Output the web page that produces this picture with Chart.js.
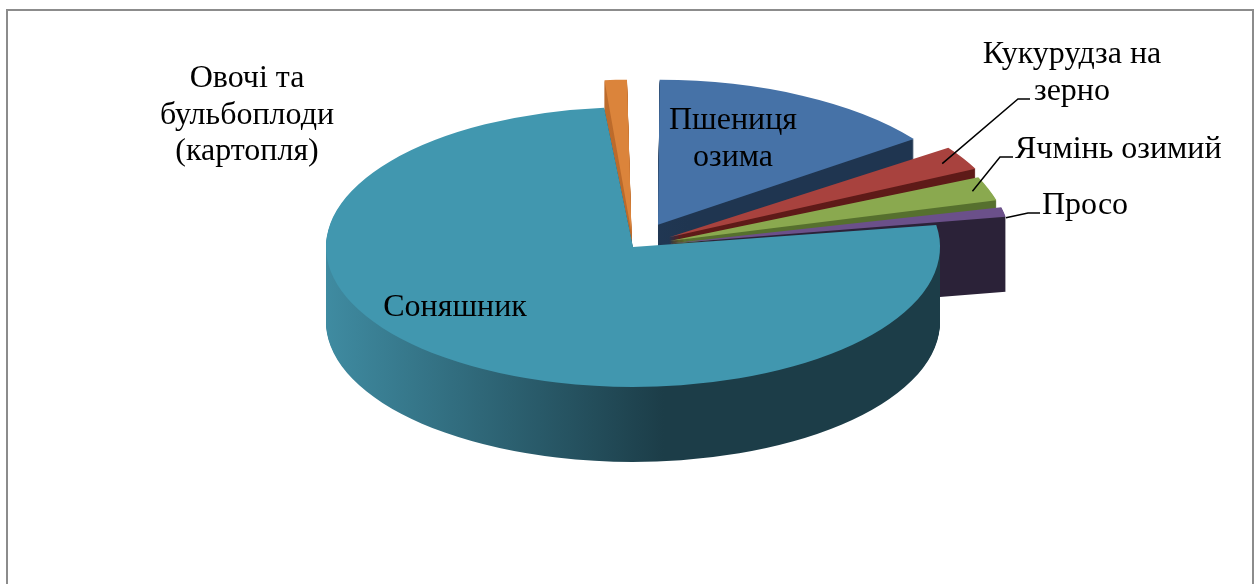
<!DOCTYPE html>
<html>
<head>
<meta charset="utf-8">
<script src="https://cdn.jsdelivr.net/npm/chart.js@4/dist/chart.umd.min.js"></script>
<style>
  html, body { margin: 0; padding: 0; background: #fff; }
  #wrap { position: relative; width: 1258px; height: 584px; overflow: hidden; }
  #frame { position: absolute; left: 6px; top: 9px; width: 1248px; height: 620px; border: 2px solid #8c8c8c; box-sizing: border-box; }
  #myChart { position: absolute; left: 0; top: 0; }
</style>
</head>
<body>
<div id="wrap">
  <div id="frame"></div>
  <canvas id="myChart" width="1258" height="584"></canvas>
</div>
<script>
// crops, clockwise from 12 o'clock
var categories = ["Пшениця озима", "Кукурудза на зерно", "Ячмінь озимий", "Просо", "Соняшник", "Овочі та бульбоплоди (картопля)"]
var shares = [15, 3, 3, 1.5, 76, 1.5]
var labelLines = [["Пшениця", "озима"], ["Кукурудза на", "зерно"], ["Ячмінь озимий"], ["Просо"], ["Соняшник"], ["Овочі та", "бульбоплоди", "(картопля)"]]

// colours: top face, side light, side dark
const TOP = ['#4672A7', '#A8423E', '#8AA94F', '#6B508A', '#4197AF', '#DB843B']
const SIDE_L = ['#2C4868', '#7A2623', '#6A843A', '#382C48', '#3F8BA1', '#D37A33']
const SIDE_D = ['#1F3550', '#5E1A18', '#56702E', '#2B2238', '#1C3D48', '#B8682A']
const EXPLODE = [220, 168, 156, 150, 0, 126]

const TILT = 0.456    // vertical squash of the pie
const DEPTH = 75      // thickness in px
const RADIUS = 307

// label placement (text anchor + leader line points)
const LABELS = [
  { x: 733, y: [129, 166], align: 'center' },
  { x: 1072, y: [63, 100], align: 'center', leader: [[1018, 99], [1030, 99]], frac: 0.93 },
  { x: 1015, y: [158], align: 'left', leader: [[1000, 157], [1013, 157]], frac: 0.95 },
  { x: 1042, y: [214], align: 'left', leader: [[1028, 213], [1040, 213]], frac: 1.0, atEnd: true },
  { x: 455, y: [316], align: 'center' },
  { x: 247, y: [87, 124, 160], align: 'center' }
]

function squash(ctx, cx, cy) {
  ctx.translate(cx, cy)
  ctx.scale(1, TILT)
  ctx.translate(-cx, -cy)
}

// point on the rim of an arc element, in screen coords
function rimPoint(el, ang, frac, cy) {
  const off = (el.options.offset || 0) / 4
  const half = (el.startAngle + el.endAngle) / 2
  const fix = 1 - Math.sin(Math.min(Math.PI, el.circumference))
  const r = el.outerRadius + off * fix
  const x = el.x + Math.cos(half) * off + Math.cos(ang) * r * frac
  const y = el.y + Math.sin(half) * off + Math.sin(ang) * r * frac
  return { x: x, y: cy + (y - cy) * TILT }
}

const pie3d = {
  id: 'pie3d',
  beforeDatasetsDraw(chart) {
    const ctx = chart.ctx
    const meta = chart.getDatasetMeta(0)
    const cx = meta.data[0].x, cy = meta.data[0].y
    // side walls, back to front
    const order = [5, 0, 1, 2, 3, 4]
    order.forEach(function (i) {
      const el = meta.data[i]
      const saved = el.options
      const g = ctx.createLinearGradient(cx - RADIUS, 0, cx + RADIUS, 0)
      g.addColorStop(0, SIDE_L[i])
      g.addColorStop(0.55, SIDE_D[i])
      g.addColorStop(1, SIDE_D[i])
      el.options = Object.assign({}, saved, { backgroundColor: g, borderWidth: 0 })
      for (let t = DEPTH; t > 0; t--) {
        ctx.save()
        ctx.translate(0, t)
        squash(ctx, cx, cy)
        el.draw(ctx)
        ctx.restore()
      }
      el.options = saved
    })
    // top faces are drawn by chart.js in the squashed space
    ctx.save()
    squash(ctx, cx, cy)
  },
  afterDatasetsDraw(chart) {
    const ctx = chart.ctx
    ctx.restore()
    const meta = chart.getDatasetMeta(0)
    const cy = meta.data[0].y
    ctx.save()
    ctx.fillStyle = '#000'
    ctx.strokeStyle = '#000'
    ctx.lineWidth = 1.5
    ctx.font = '32px "Liberation Serif", "Times New Roman", serif'
    LABELS.forEach(function (lb, i) {
      if (lb.leader) {
        const el = meta.data[i]
        const ang = lb.atEnd ? el.endAngle - 0.01 : (el.startAngle + el.endAngle) / 2
        const p = rimPoint(el, ang, lb.frac, cy)
        ctx.beginPath()
        ctx.moveTo(p.x, p.y)
        lb.leader.forEach(function (q) { ctx.lineTo(q[0], q[1]) })
        ctx.stroke()
      }
      ctx.textAlign = lb.align
      labelLines[i].forEach(function (s, j) {
        ctx.fillText(s, lb.x, lb.y[j])
      })
    })
    ctx.restore()
  }
}

const data = {
  labels: categories,
  datasets: [{
    data: shares,
    backgroundColor: TOP,
    borderWidth: 0,
    offset: EXPLODE,
    radius: RADIUS
  }]
}

const config = {
  type: 'pie',
  data: data,
  options: {
    responsive: false,
    animation: false,
    events: [],
    layout: { padding: { left: 8, right: 0, top: 0, bottom: 90 } },
    plugins: {
      legend: { display: false },
      tooltip: { enabled: false }
    }
  },
  plugins: [pie3d]
}

const myChart = new Chart(document.getElementById('myChart'), config)
</script>
</body>
</html>
